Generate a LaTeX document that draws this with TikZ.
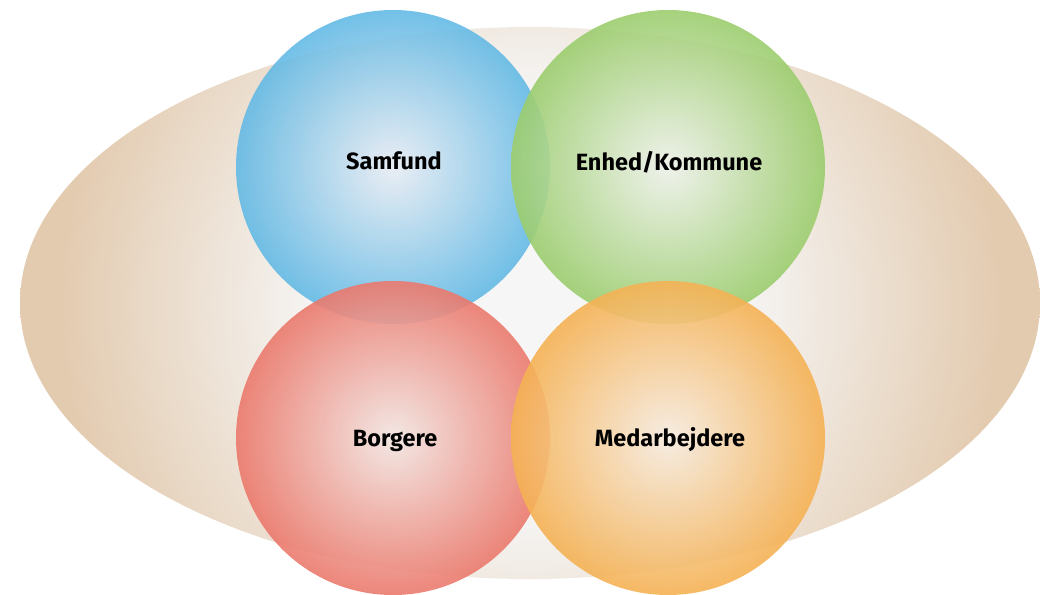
\documentclass[tikz,border=0pt]{standalone}
\usepackage{fontspec}
\setmainfont{Fira Sans}
\definecolor{ellin}{HTML}{F6F6F6}
\definecolor{ellout}{HTML}{E3CBB0}
\definecolor{bluein}{HTML}{E9EDF4}
\definecolor{blueout}{HTML}{2EA5DF}
\definecolor{greenin}{HTML}{EEF2EA}
\definecolor{greenout}{HTML}{7BBE3C}
\definecolor{redin}{HTML}{F3E6E2}
\definecolor{redout}{HTML}{E84E3E}
\definecolor{orangein}{HTML}{F6ECE0}
\definecolor{orangeout}{HTML}{F59A1C}
\pgfdeclareradialshading{ellshade}{\pgfpoint{0bp}{0bp}}{color(0bp)=(ellin); color(10bp)=(ellin); color(23bp)=(ellout); color(50bp)=(ellout)}
\pgfdeclareradialshading{blueshade}{\pgfpoint{0bp}{0bp}}{color(0bp)=(bluein); color(35bp)=(blueout); color(50bp)=(blueout)}
\pgfdeclareradialshading{greenshade}{\pgfpoint{0bp}{0bp}}{color(0bp)=(greenin); color(35bp)=(greenout); color(50bp)=(greenout)}
\pgfdeclareradialshading{redshade}{\pgfpoint{0bp}{0bp}}{color(0bp)=(redin); color(35bp)=(redout); color(50bp)=(redout)}
\pgfdeclareradialshading{orangeshade}{\pgfpoint{0bp}{0bp}}{color(0bp)=(orangein); color(35bp)=(orangeout); color(50bp)=(orangeout)}
\begin{document}
\begin{tikzpicture}[x=1pt,y=-1pt,
  bubble/.style={circle, minimum size=314pt, inner sep=0pt, fill opacity=0.9},
  lbl/.style={font=\fontsize{23.5}{26}\selectfont\bfseries, anchor=base, inner sep=0pt}]
\useasboundingbox (0,0) rectangle (1040,594);
\begin{scope}
  \clip (530,303) ellipse [x radius=510, y radius=276];
  \path[shading=ellshade] (20,-207) rectangle (1040,813);
\end{scope}
\node[bubble, shading=blueshade] (samfund) at (393,167) {};
\node[bubble, shading=greenshade] (enhed) at (668,167) {};
\node[bubble, shading=redshade] (borgere) at (393,438) {};
\node[bubble, shading=orangeshade] (medarb) at (668,438) {};
\node[lbl] (tsamfund) at (394,169) {Samfund};
\node[lbl] (tenhed) at (669,170) {Enhed/Kommune};
\node[lbl] (tborgere) at (395,446) {Borgere};
\node[lbl] (tmedarb) at (670,446) {Medarbejdere};
\end{tikzpicture}
\end{document}
